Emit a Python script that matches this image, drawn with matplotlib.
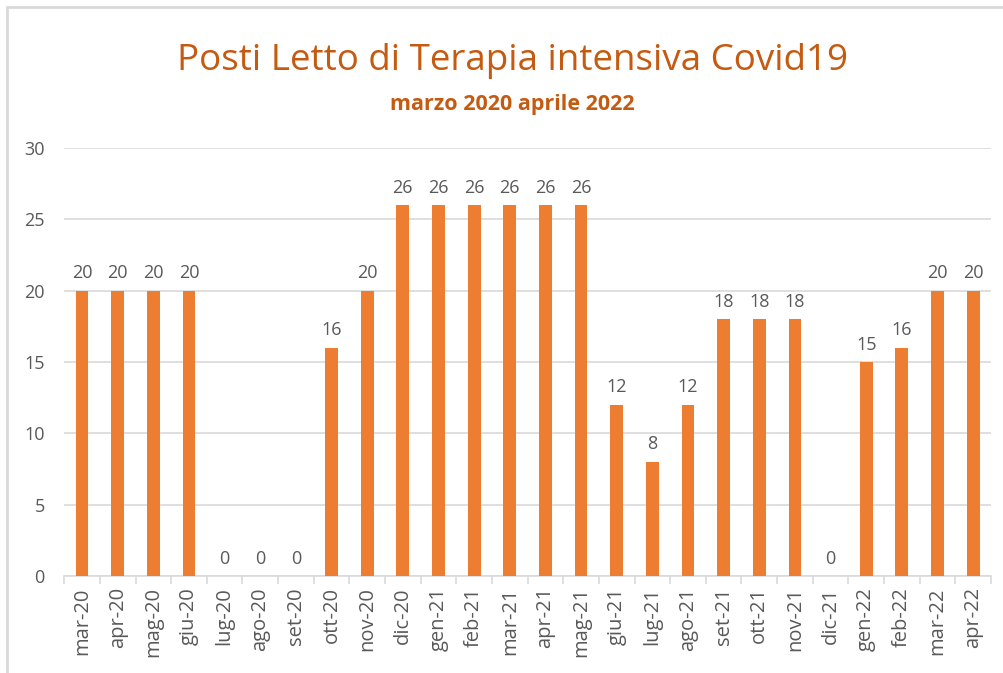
import matplotlib.pyplot as plt
from matplotlib.patches import Rectangle

months = ["mar-20", "apr-20", "mag-20", "giu-20", "lug-20", "ago-20", "set-20",
          "ott-20", "nov-20", "dic-20", "gen-21", "feb-21", "mar-21", "apr-21",
          "mag-21", "giu-21", "lug-21", "ago-21", "set-21", "ott-21", "nov-21",
          "dic-21", "gen-22", "feb-22", "mar-22", "apr-22"]
beds = [20, 20, 20, 20, 0, 0, 0, 16, 20, 26, 26, 26, 26, 26, 26, 12, 8, 12,
        18, 18, 18, 0, 15, 16, 20, 20]

ORANGE = "#ED7D31"
TITLE = "#C55A11"
GREY = "#595959"

plt.rcParams['font.family'] = ['Open Sans', 'DejaVu Sans']

fig = plt.figure(figsize=(10.04, 6.73), dpi=100)
ax = fig.add_axes([0.064, 0.144, 0.923, 0.636])

x = range(len(months))
ax.bar(x, beds, width=0.36, color=ORANGE, zorder=3)
for xi, v in zip(x, beds):
    ax.text(xi, v + 0.6, str(v), ha="center", va="bottom", fontsize=13, color=GREY)

ax.set_xlim(-0.5, len(months) - 0.5)
ax.set_ylim(0, 30)
ax.set_yticks(range(0, 31, 5))
ax.set_xticks(list(x))
ax.set_xticklabels(months, rotation=90, fontsize=14.5, color=GREY)
ax.tick_params(axis="y", length=0, labelsize=13, labelcolor=GREY, pad=14)
ax.tick_params(axis="x", length=0, pad=8)
# tick marks between categories
ax.set_xticks([i - 0.5 for i in range(len(months) + 1)], minor=True)
ax.tick_params(axis="x", which="minor", length=6, color="#d9d9d9", width=1.2)
ax.yaxis.grid(True, color="#d9d9d9", linewidth=1.2, zorder=0)
for s in ["top", "right", "left"]:
    ax.spines[s].set_visible(False)
ax.spines["bottom"].set_color("#d9d9d9")
ax.spines["bottom"].set_linewidth(1.2)

fig.text(0.51, 0.910, "Posti Letto di Terapia intensiva Covid19", ha="center",
         va="center", fontsize=26.5, color=TITLE)
fig.text(0.51, 0.845, "marzo 2020 aprile 2022", ha="center", va="center",
         fontsize=15.5, color=TITLE, fontweight="bold")

fig.patches.append(Rectangle((7 / 1004, -0.05), 1.1, 1 - 7 / 673 + 0.05,
                             transform=fig.transFigure, fill=False,
                             edgecolor="#d9d9d9", linewidth=2))

fig.savefig("out.png", dpi=100)
